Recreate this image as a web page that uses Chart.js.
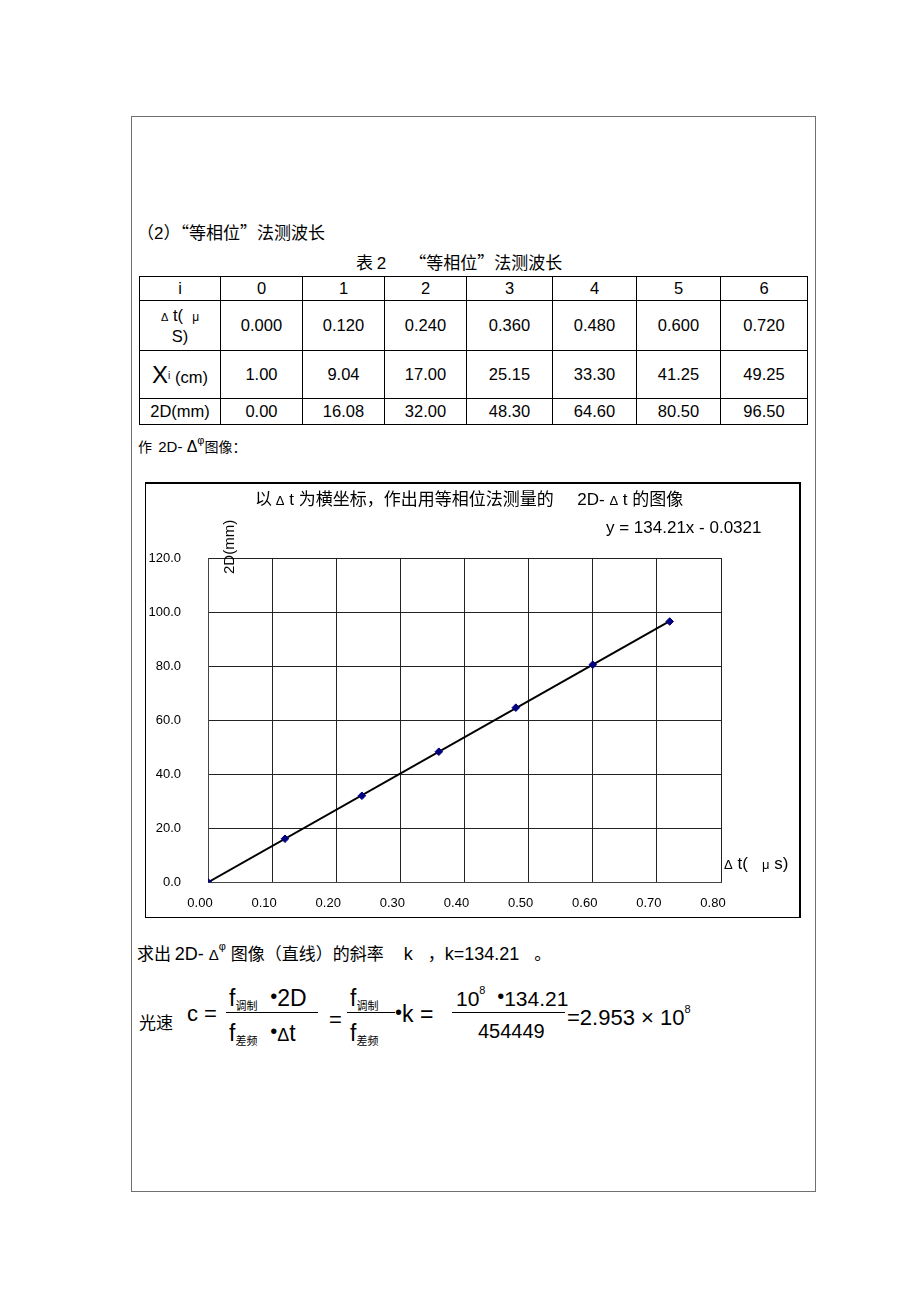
<!DOCTYPE html>
<html><head><meta charset="utf-8">
<script src="https://cdn.jsdelivr.net/npm/chart.js@4.4.1/dist/chart.umd.min.js"></script>
<style>
html,body{margin:0;padding:0;background:#fff;}
body{width:920px;height:1303px;position:relative;overflow:hidden;font-family:"Liberation Sans","Noto Sans CJK SC",sans-serif;color:#000;}
.a{position:absolute;white-space:pre;line-height:1;}
.cj{font-family:"Noto Sans CJK SC","Liberation Sans",sans-serif;}
.la{font-family:"Liberation Sans",sans-serif;}
#frame{position:absolute;left:131px;top:116px;width:683px;height:1074px;border:1px solid #707070;}
table{position:absolute;left:139px;top:276px;border-collapse:collapse;table-layout:fixed;}
td{border:1px solid #000;text-align:center;font-size:16.5px;padding:0;line-height:1.25;}
#chartbox{position:absolute;left:145px;top:482px;width:653px;height:433px;border:1px solid #000;border-top-width:2px;border-right-width:2px;}
#cwrap{position:absolute;left:0;top:0;width:653px;height:433px;}
.hl{position:absolute;height:1px;background:#000;}
sub,sup{line-height:0;}
.dot{font-size:20px;position:relative;top:-3px;}
</style>
</head>
<body>
<div id="frame"></div>

<div class="a cj" style="left:137px;top:223px;font-size:17px;">（<span class="la">2</span>）“等相位”法测波长</div>
<div class="a cj" style="left:356px;top:253px;font-size:17px;">表 <span class="la">2</span>      “等相位”法测波长</div>

<table id="tbl">
<colgroup>
<col style="width:81px"><col style="width:82px"><col style="width:82px"><col style="width:82px"><col style="width:86px"><col style="width:84px"><col style="width:84px"><col style="width:87px">
</colgroup>
<tbody id="tbody"></tbody>
</table>

<div class="a cj" style="left:138px;top:439px;font-size:14px;">作  <span class="la" style="font-size:15px">2D- </span><span class="la" style="font-size:16px">Δ</span><sup class="la" style="font-size:11px;position:relative;top:-2px">φ</sup>图像：</div>

<div id="chartbox">
  <div id="cwrap"><canvas id="c" width="653" height="433"></canvas></div>
  <div class="a cj" style="left:109px;top:5px;font-size:17px;">以 <span class="la" style="font-size:13px">Δ</span><span class="la"> t </span>为横坐标，作出用等相位法测量的<span class="la">     2D- </span><span class="la" style="font-size:13px">Δ</span><span class="la"> t </span>的图像</div>
  <div class="a" style="left:460px;top:35px;font-size:17px;">y = 134.21x - 0.0321</div>
  <div class="a" style="left:578px;top:371px;font-size:17px;"><span style="font-size:13px">Δ</span> t(   <span style="font-size:13px">μ</span> s)</div>
  <div class="a" style="font-size:15px;transform:rotate(-90deg);transform-origin:0 0;top:90px;left:75px;">2D(mm)</div>
</div>

<div class="a cj" style="left:137px;top:944px;font-size:17px;">求出 <span class="la" style="font-size:18px">2D- </span><span class="la" style="font-size:15px">Δ</span><sup class="la" style="font-size:11px;position:relative;top:-3px">φ</sup><span class="la"> </span>图像（直线）的斜率<span class="la" style="font-size:18px">    k   </span>，<span class="la" style="font-size:18px">k=134.21   </span>。</div>

<!-- formula -->
<div class="a cj" style="left:139px;top:1013px;font-size:17px;">光速</div>
<div class="a" style="left:187px;top:1003px;font-size:22px;">c =</div>
<div class="a" style="left:229px;top:987px;font-size:23px;">f<span class="cj" style="font-size:11px;position:relative;top:4px">调制</span>  <span class="dot">•</span>2D</div>
<div class="hl" style="left:226px;top:1012px;width:92px;"></div>
<div class="a" style="left:229px;top:1022px;font-size:23px;">f<span class="cj" style="font-size:11px;position:relative;top:4px">差频</span>  <span class="dot">•</span><span style="font-size:18px">Δ</span>t</div>
<div class="a" style="left:329px;top:1009px;font-size:22px;">=</div>
<div class="a" style="left:350px;top:987px;font-size:23px;">f<span class="cj" style="font-size:11px;position:relative;top:4px">调制</span></div>
<div class="hl" style="left:347px;top:1012px;width:48px;"></div>
<div class="a" style="left:350px;top:1022px;font-size:23px;">f<span class="cj" style="font-size:11px;position:relative;top:4px">差频</span></div>
<div class="a" style="left:395px;top:1003px;font-size:23px;"><span class="dot">•</span>k =</div>
<div class="a" style="left:456px;top:988px;font-size:21px;">10<sup style="font-size:11px;position:relative;top:-4px">8</sup>  <span class="dot">•</span>134.21</div>
<div class="hl" style="left:452px;top:1012px;width:113px;"></div>
<div class="a" style="left:478px;top:1021px;font-size:20px;">454449</div>
<div class="a" style="left:567px;top:1007px;font-size:22px;">=2.953 × 10<sup style="font-size:11px;position:relative;top:-4px">8</sup></div>

<script>
// ---- table data ----
const idxRow = ['0','1','2','3','4','5','6'];
const dtRow = ['0.000','0.120','0.240','0.360','0.480','0.600','0.720'];
const xiRow = ['1.00','9.04','17.00','25.15','33.30','41.25','49.25'];
const dRow = ['0.00','16.08','32.00','48.30','64.60','80.50','96.50'];

// ---- chart data ----
const dtValues = [0, 0.12, 0.24, 0.36, 0.48, 0.60, 0.72];
const twoDValues = [0.00, 16.08, 32.00, 48.30, 64.60, 80.50, 96.50];
const trendX = [0, 0.72];
const trendY = [-0.03, 96.60];
const xTickLabels = ['0.00','0.10','0.20','0.30','0.40','0.50','0.60','0.70','0.80'];
const yTickLabels = ['0.0','20.0','40.0','60.0','80.0','100.0','120.0'];

// build table
const tb = document.getElementById('tbody');
function row(h, firstHTML, vals){
  const tr = document.createElement('tr');
  tr.style.height = h + 'px';
  const td0 = document.createElement('td'); td0.innerHTML = firstHTML; tr.appendChild(td0);
  vals.forEach(v=>{const td=document.createElement('td'); td.textContent=v; tr.appendChild(td);});
  tb.appendChild(tr);
}
row(24, 'i', idxRow);
row(50, '<span style="font-size:11px">Δ</span> t(&nbsp;&nbsp;<span style="font-size:12px">μ</span><br>S)', dtRow);
row(48, '<span style="font-size:24px">X</span><span style="font-size:10px;position:relative;top:-4px">i</span> (cm)', xiRow);
row(26, '2D(mm)', dRow);

const scatterData = dtValues.map((x,i)=>({x, y: twoDValues[i]}));
const trendData = trendX.map((x,i)=>({x, y: trendY[i]}));

new Chart(document.getElementById('c'), {
  type: 'scatter',
  data: {
    datasets: [
      { label:'2D', data: scatterData, pointStyle:'rectRot', pointRadius:3.8,
        backgroundColor:'#000080', borderColor:'#000080', borderWidth:1, showLine:false },
      { label:'trend', data: trendData, showLine:true, borderColor:'#000', borderWidth:2,
        pointRadius:0, fill:false }
    ]
  },
  options: {
    responsive:false, animation:false, devicePixelRatio:1,
    layout:{ padding:{ left:0, top:74, right:78, bottom:0 } },
    plugins:{ legend:{display:false}, tooltip:{enabled:false}, title:{display:false} },
    scales:{
      x:{ type:'linear', min:0, max:0.8,
          afterFit(s){ s.height = 33; },
          afterBuildTicks(s){ s.ticks = xTickLabels.map(t=>({value:parseFloat(t)})); },
          ticks:{ padding:13, labelOffset:-8, color:'#000', font:{family:'Liberation Sans', size:13},
                  callback:(v,i)=>xTickLabels[i] },
          grid:{ color:'#222', lineWidth:1, drawTicks:false },
          border:{ display:true, color:'#444', width:1 } },
      y:{ type:'linear', min:0, max:120,
          afterFit(s){ s.width = 62; },
          afterBuildTicks(s){ s.ticks = yTickLabels.map(t=>({value:parseFloat(t)})); },
          ticks:{ padding:27, color:'#000', font:{family:'Liberation Sans', size:13},
                  callback:(v,i)=>yTickLabels[i] },
          grid:{ color:'#222', lineWidth:1, drawTicks:false },
          border:{ display:true, color:'#444', width:1 } }
    }
  }
});
</script>
</body></html>
